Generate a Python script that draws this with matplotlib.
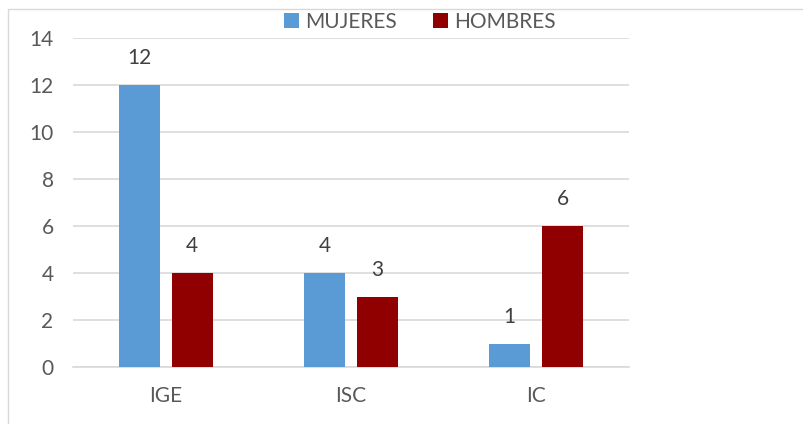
import matplotlib.pyplot as plt
import numpy as np
from matplotlib.patches import Rectangle

carreras = ['IGE', 'ISC', 'IC']
mujeres = [12, 4, 1]
hombres = [4, 3, 6]

plt.rcParams['font.family'] = ['Lato', 'DejaVu Sans']
gris = '#595959'

fig = plt.figure(figsize=(8.04, 4.24), dpi=100)
ax = fig.add_axes([0.0908, 0.1344, 0.6915, 0.776])

# borde del area del grafico
fig.patches.append(Rectangle((8 / 804, -0.1), 1.2, 1 - 9 / 424 + 0.1, transform=fig.transFigure,
                             fill=False, edgecolor='#D9D9D9', linewidth=1))

x = np.arange(len(carreras))
ancho = 0.221
b1 = ax.bar(x - 0.143, mujeres, ancho, color='#5B9BD5', label='MUJERES', zorder=3)
b2 = ax.bar(x + 0.143, hombres, ancho, color='#900000', label='HOMBRES', zorder=3)

for barras in (b1, b2):
    for b in barras:
        ax.annotate(str(int(b.get_height())), (b.get_x() + b.get_width() / 2, b.get_height()),
                    xytext=(0, 12), textcoords='offset points', ha='center', va='bottom',
                    fontsize=15, color='#404040')

ax.set_xlim(-0.5, 2.5)
ax.set_ylim(0, 14)
ax.set_yticks(range(0, 15, 2))
ax.set_xticks(x)
ax.set_xticklabels(carreras)
ax.yaxis.grid(True, color='#D9D9D9', linewidth=1.2, zorder=0)
ax.tick_params(axis='both', length=0, labelsize=15, labelcolor=gris)
ax.tick_params(axis='x', pad=14)
ax.tick_params(axis='y', pad=14)
for s in ['top', 'right', 'left']:
    ax.spines[s].set_visible(False)
ax.spines['bottom'].set_color('#D9D9D9')
ax.spines['bottom'].set_linewidth(1.2)

fig.legend(handles=[b1, b2], loc='center', bbox_to_anchor=(0.5224, 0.948), ncol=2, frameon=False,
           fontsize=15, labelcolor=gris, handlelength=0.7, handleheight=0.7, handletextpad=0.3,
           columnspacing=1.75)

fig.savefig('out.png', dpi=100)
